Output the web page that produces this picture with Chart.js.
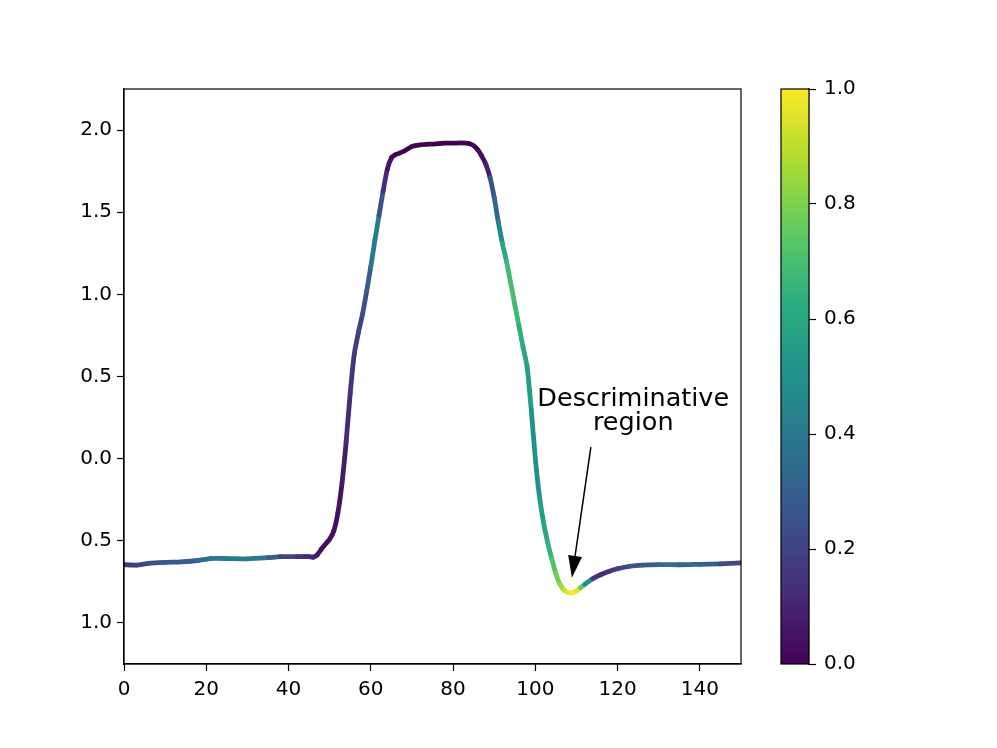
<!DOCTYPE html>
<html>
<head>
<meta charset="utf-8">
<script src="https://cdn.jsdelivr.net/npm/chart.js@4"></script>
<style>
  html, body { margin: 0; padding: 0; background: white; }
  #wrap { position: relative; width: 997px; height: 748px; }
  #wrap canvas { position: absolute; left: 0; top: 0; }
</style>
</head>
<body>
<div id="wrap">
  <canvas id="main" width="997" height="748"></canvas>
  <canvas id="cbar" width="997" height="748"></canvas>
</div>
<script>
// curve
const xs = [0, 3, 6, 10, 14, 18, 21, 25, 30, 35, 38, 42, 45, 46, 47, 48, 49, 50, 51, 52, 53, 54, 55, 56, 57, 58, 59, 60, 61, 62, 63, 64, 65, 66, 68, 70, 72, 75, 78, 80, 82, 84, 85, 86, 87, 88, 89, 90, 91, 92, 93, 94, 95, 96, 97, 98, 99, 100, 101, 102, 103, 104, 105, 106, 107, 108, 109, 110, 111, 112, 114, 116, 118, 120, 123, 126, 130, 135, 140, 145, 150]
const ys = [-0.645, -0.648, -0.638, -0.632, -0.628, -0.620, -0.608, -0.608, -0.610, -0.603, -0.597, -0.596, -0.596, -0.600, -0.585, -0.550, -0.520, -0.490, -0.440, -0.330, -0.150, 0.100, 0.400, 0.640, 0.770, 0.880, 1.020, 1.170, 1.330, 1.480, 1.630, 1.760, 1.830, 1.850, 1.870, 1.900, 1.910, 1.915, 1.920, 1.920, 1.922, 1.918, 1.905, 1.880, 1.840, 1.790, 1.710, 1.590, 1.440, 1.310, 1.200, 1.070, 0.940, 0.810, 0.680, 0.560, 0.300, 0.000, -0.230, -0.390, -0.510, -0.610, -0.700, -0.765, -0.800, -0.815, -0.815, -0.805, -0.785, -0.765, -0.730, -0.705, -0.685, -0.670, -0.655, -0.648, -0.645, -0.646, -0.643, -0.640, -0.635]
// colour value of each segment (0..1)
const weights = [0.18, 0.2, 0.25, 0.28, 0.3, 0.35, 0.4, 0.42, 0.4, 0.3, 0.2, 0.15, 0.12, 0.1, 0.06, 0.03, 0.03, 0.03, 0.04, 0.05, 0.08, 0.12, 0.15, 0.18, 0.2, 0.24, 0.3, 0.4, 0.42, 0.25, 0.12, 0.06, 0.02, 0.0, 0.0, 0.0, 0.0, 0.0, 0.0, 0.0, 0.0, 0.0, 0.0, 0.02, 0.05, 0.1, 0.25, 0.33, 0.45, 0.6, 0.68, 0.7, 0.68, 0.64, 0.6, 0.55, 0.5, 0.5, 0.55, 0.6, 0.65, 0.72, 0.78, 0.85, 0.92, 0.98, 1.0, 0.95, 0.75, 0.5, 0.15, 0.12, 0.15, 0.2, 0.25, 0.3, 0.35, 0.33, 0.3, 0.22, 0.2]
const xTicks = [0, 20, 40, 60, 80, 100, 120, 140]
const yTicks = [-1.0, -0.5, 0.0, 0.5, 1.0, 1.5, 2.0]
const cbarTicks = [0.0, 0.2, 0.4, 0.6, 0.8, 1.0]
const noteLines = ["Descriminative", "region"]

const viridisStops = [
  [68, 1, 84], [71, 44, 122], [59, 82, 139], [44, 114, 142],
  [33, 145, 140], [40, 174, 128], [94, 201, 98], [173, 220, 48], [253, 231, 37]
]
function viridis(t) {
  t = Math.max(0, Math.min(1, t))
  const p = t * (viridisStops.length - 1)
  const i = Math.min(Math.floor(p), viridisStops.length - 2)
  const f = p - i
  const a = viridisStops[i], b = viridisStops[i + 1]
  const c = a.map((v, k) => Math.round(v + (b[k] - v) * f))
  return "rgb(" + c.join(",") + ")"
}

const FONT = "'DejaVu Sans', sans-serif"
Chart.defaults.font.family = FONT
Chart.defaults.color = "black"

const noteArrow = {
  id: "noteArrow",
  afterDatasetsDraw(chart) {
    const ctx = chart.ctx
    const x = chart.scales.x, y = chart.scales.y
    const tx = x.getPixelForValue(123.8)
    ctx.save()
    ctx.fillStyle = "black"
    ctx.font = "25.5px " + FONT
    ctx.textAlign = "center"
    ctx.textBaseline = "alphabetic"
    ctx.fillText(noteLines[0], tx, y.getPixelForValue(0.32))
    ctx.fillText(noteLines[1], tx, y.getPixelForValue(0.172))
    // arrow
    const x0 = x.getPixelForValue(113.5), y0 = y.getPixelForValue(0.07)
    const x1 = x.getPixelForValue(108.9), y1 = y.getPixelForValue(-0.725)
    const ang = Math.atan2(y1 - y0, x1 - x0)
    const hl = 22, hw = 7
    const bx = x1 - hl * Math.cos(ang), by = y1 - hl * Math.sin(ang)
    ctx.strokeStyle = "black"
    ctx.lineWidth = 1.5
    ctx.beginPath()
    ctx.moveTo(x0, y0)
    ctx.lineTo(bx, by)
    ctx.stroke()
    ctx.beginPath()
    ctx.moveTo(x1, y1)
    ctx.lineTo(bx + hw * Math.sin(ang), by - hw * Math.cos(ang))
    ctx.lineTo(bx - hw * Math.sin(ang), by + hw * Math.cos(ang))
    ctx.closePath()
    ctx.fill()
    ctx.restore()
  }
}

const frame = {
  id: "frame",
  afterDraw(chart) {
    const a = chart.chartArea, ctx = chart.ctx
    ctx.save()
    ctx.strokeStyle = "black"
    ctx.lineWidth = 1.2
    ctx.strokeRect(a.left, a.top, a.right - a.left, a.bottom - a.top)
    ctx.restore()
  }
}

const points = xs.map((x, i) => ({x: x, y: ys[i]}))

new Chart(document.getElementById("main"), {
  type: "line",
  data: {
    datasets: [{
      data: points,
      borderWidth: 4.8,
      borderCapStyle: "round",
      borderJoinStyle: "round",
      pointRadius: 0,
      tension: 0.2,
      fill: false,
      segment: {
        borderColor: c => viridis(weights[c.p0DataIndex])
      }
    }]
  },
  options: {
    responsive: false,
    animation: false,
    layout: {padding: {left: 64, top: 89, right: 256, bottom: 44}},
    plugins: {legend: {display: false}, tooltip: {enabled: false}},
    scales: {
      x: {
        type: "linear", min: 0, max: 150,
        afterFit: s => { s.height = 40 },
        afterBuildTicks: s => { s.ticks = xTicks.map(v => ({value: v})) },
        grid: {drawOnChartArea: false, tickLength: 7, tickColor: "black", tickWidth: 1.2},
        border: {color: "black", width: 1.2},
        ticks: {font: {size: 20}, padding: 7, maxRotation: 0, callback: v => String(v)}
      },
      y: {
        type: "linear", min: -1.25, max: 2.25,
        afterFit: s => { s.width = 60 },
        afterBuildTicks: s => { s.ticks = yTicks.map(v => ({value: v})) },
        grid: {drawOnChartArea: false, tickLength: 7, tickColor: "black", tickWidth: 1.2},
        border: {color: "black", width: 1.2},
        // the reference draws the negative labels without their minus sign
        ticks: {font: {size: 20}, padding: 5, callback: v => Math.abs(v).toFixed(1)}
      }
    }
  },
  plugins: [noteArrow, frame]
})

const gradientBar = {
  id: "gradientBar",
  beforeDatasetsDraw(chart) {
    const a = chart.chartArea, ctx = chart.ctx
    const g = ctx.createLinearGradient(0, a.bottom, 0, a.top)
    for (let i = 0; i <= 40; i++) g.addColorStop(i / 40, viridis(i / 40))
    ctx.save()
    ctx.fillStyle = g
    ctx.fillRect(a.left, a.top, a.right - a.left, a.bottom - a.top)
    ctx.restore()
  }
}

new Chart(document.getElementById("cbar"), {
  type: "scatter",
  data: {datasets: [{data: []}]},
  options: {
    responsive: false,
    animation: false,
    layout: {padding: {left: 781, top: 89, right: 128, bottom: 84}},
    plugins: {legend: {display: false}, tooltip: {enabled: false}},
    scales: {
      x: {type: "linear", min: 0, max: 1, display: false},
      y: {
        type: "linear", position: "right", min: 0, max: 1,
        afterFit: s => { s.width = 60 },
        afterBuildTicks: s => { s.ticks = cbarTicks.map(v => ({value: v})) },
        grid: {drawOnChartArea: false, tickLength: 7, tickColor: "black", tickWidth: 1.2},
        border: {color: "black", width: 1.2},
        ticks: {font: {size: 20}, padding: 8, callback: v => v.toFixed(1)}
      }
    }
  },
  plugins: [gradientBar, frame]
})
</script>
</body>
</html>
